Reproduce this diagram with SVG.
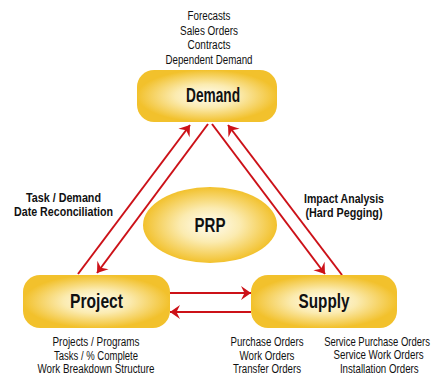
<svg xmlns="http://www.w3.org/2000/svg" width="432" height="375" viewBox="0 0 432 375">
<defs>
<radialGradient id="gold" cx="0.5" cy="0.5" r="0.5">
<stop offset="0" stop-color="#FFFDF2"/>
<stop offset="0.45" stop-color="#FBEBB0"/>
<stop offset="1" stop-color="#F2C12C"/>
</radialGradient>
<marker id="ah" viewBox="-11 -8 12 16" refX="0" refY="0" markerWidth="12" markerHeight="16" markerUnits="userSpaceOnUse" orient="auto">
<path d="M0,0 L-10,-7 L-6.5,0 L-10,7 Z" fill="#CC1118"/>
</marker>
</defs>
<style>
.box{fill:url(#gold);}
text{font-family:"Liberation Sans",Arial,sans-serif;fill:#111;text-anchor:middle;}
.ttl{font-weight:bold;font-size:19.5px;}
.lbl{font-weight:bold;font-size:12.5px;}
.txt{font-size:12.5px;}
.con{stroke:#CC1118;stroke-width:2;fill:none;marker-end:url(#ah);}
</style>
<rect width="432" height="375" fill="#fff"/>
<g id="connectors">
<line class="con" x1="78" y1="274" x2="190" y2="125"/>
<line class="con" x1="208" y1="124" x2="97" y2="273"/>
<line class="con" x1="212" y1="124" x2="325" y2="274"/>
<line class="con" x1="342" y1="275" x2="228" y2="125"/>
<line class="con" x1="170" y1="293" x2="251" y2="293"/>
<line class="con" x1="251" y1="312" x2="170" y2="312"/>
</g>
<g id="demand">
<rect class="box" x="137" y="70" width="140" height="52" rx="17"/>
<text class="ttl" x="213" y="102" textLength="54" lengthAdjust="spacingAndGlyphs">Demand</text>
<text class="txt" x="209" y="20" textLength="43" lengthAdjust="spacingAndGlyphs">Forecasts</text>
<text class="txt" x="209" y="34.5" textLength="58" lengthAdjust="spacingAndGlyphs">Sales Orders</text>
<text class="txt" x="209" y="49" textLength="43" lengthAdjust="spacingAndGlyphs">Contracts</text>
<text class="txt" x="209" y="63.5" textLength="87" lengthAdjust="spacingAndGlyphs">Dependent Demand</text>
</g>
<g id="prp">
<ellipse class="box" cx="210" cy="225" rx="67" ry="38"/>
<text class="ttl" x="210" y="232" textLength="31" lengthAdjust="spacingAndGlyphs">PRP</text>
</g>
<g id="project">
<rect class="box" x="23" y="275" width="147" height="53" rx="17"/>
<text class="ttl" x="96.5" y="308" textLength="53" lengthAdjust="spacingAndGlyphs">Project</text>
<text class="txt" x="96" y="346" textLength="87" lengthAdjust="spacingAndGlyphs">Projects / Programs</text>
<text class="txt" x="96" y="359.5" textLength="84" lengthAdjust="spacingAndGlyphs">Tasks / % Complete</text>
<text class="txt" x="96" y="373" textLength="117" lengthAdjust="spacingAndGlyphs">Work Breakdown Structure</text>
</g>
<g id="supply">
<rect class="box" x="251" y="275" width="146" height="53" rx="17"/>
<text class="ttl" x="324" y="308" textLength="51" lengthAdjust="spacingAndGlyphs">Supply</text>
<text class="txt" x="267" y="346" textLength="73" lengthAdjust="spacingAndGlyphs">Purchase Orders</text>
<text class="txt" x="267" y="359.5" textLength="55" lengthAdjust="spacingAndGlyphs">Work Orders</text>
<text class="txt" x="267" y="373" textLength="68" lengthAdjust="spacingAndGlyphs">Transfer Orders</text>
<g transform="translate(377,0) scale(0.75,1)">
<text class="txt" x="0" y="346" textLength="141" lengthAdjust="spacingAndGlyphs">Service Purchase Orders</text>
<text class="txt" x="2" y="359.5" textLength="120" lengthAdjust="spacingAndGlyphs">Service Work Orders</text>
<text class="txt" x="3" y="373" textLength="105" lengthAdjust="spacingAndGlyphs">Installation Orders</text>
</g>
</g>
<g id="label-task">
<text class="lbl" x="63.5" y="202" textLength="75" lengthAdjust="spacingAndGlyphs">Task / Demand</text>
<text class="lbl" x="63.5" y="216" textLength="99" lengthAdjust="spacingAndGlyphs">Date Reconciliation</text>
</g>
<g id="label-impact">
<text class="lbl" x="344" y="203" textLength="80" lengthAdjust="spacingAndGlyphs">Impact Analysis</text>
<text class="lbl" x="344" y="217" textLength="77" lengthAdjust="spacingAndGlyphs">(Hard Pegging)</text>
</g>
</svg>
